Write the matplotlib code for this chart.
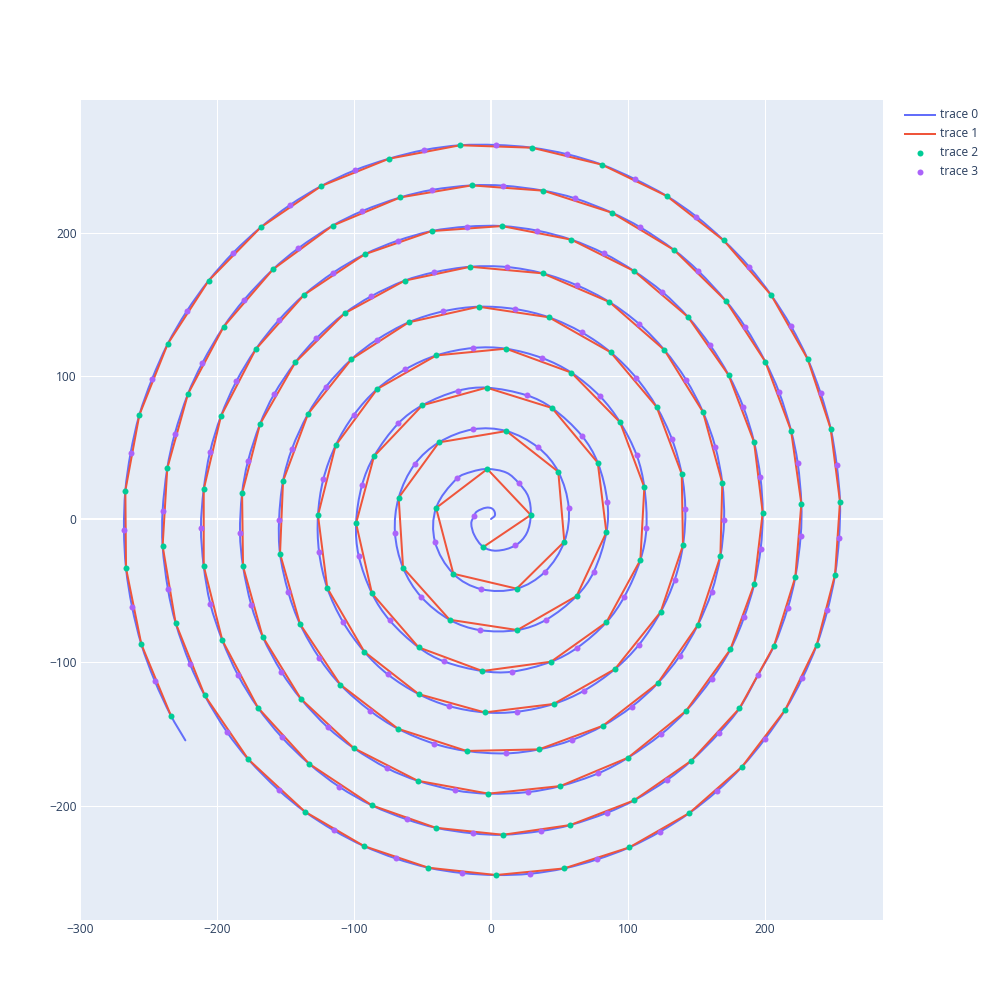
import numpy as np
import matplotlib
matplotlib.use("Agg")
import matplotlib.pyplot as plt
from matplotlib.path import Path
from matplotlib.patches import PathPatch
from matplotlib.lines import Line2D

# ---------------- data ----------------
# trace 2 (green markers); trace 1 is the line through them, in this order
green_x = [-5.6, 29.0, -2.7, -40.1, -27.5, 18.7, 53.5, 49.1, 11.2, -38.0,
           -67.4, -64.2, -30.2, 19.2, 62.5, 84.2, 77.9, 44.5, -3.2, -50.1,
           -85.4, -98.5, -86.9, -52.8, -6.3, 43.8, 84.2, 109.0, 111.9, 94.2,
           58.6, 10.9, -39.9, -83.0, -113.4, -126.3, -119.5, -92.5, -52.8, -4.6,
           45.7, 90.5, 123.8, 140.1, 139.2, 120.9, 87.3, 42.3, -9.0, -60.1,
           -101.9, -133.6, -151.8, -154.0, -139.4, -110.0, -67.9, -17.8, 35.0, 81.7,
           121.6, 150.8, 167.4, 168.8, 154.7, 126.5, 86.4, 37.7, -15.1, -63.0,
           -106.8, -142.8, -168.6, -181.7, -181.0, -166.7, -138.9, -100.2, -53.5, -1.9,
           50.6, 100.0, 142.3, 174.7, 192.2, 198.3, 192.0, 173.5, 143.8, 104.4,
           58.6, 8.0, -43.3, -92.2, -136.3, -171.8, -197.1, -209.7, -209.7, -196.1,
           -170.1, -132.8, -86.9, -40.4, 8.8, 57.9, 104.4, 146.2, 181.3, 206.6,
           222.1, 226.5, 219.0, 200.2, 171.3, 133.6, 88.3, 38.2, -14.1, -66.2,
           -115.6, -159.1, -195.1, -221.2, -236.3, -239.7, -230.2, -209.0, -177.1, -135.8,
           -92.7, -45.7, 3.7, 53.3, 101.0, 144.8, 183.2, 214.8, 237.7, 251.1,
           254.7, 247.9, 231.1, 204.6, 169.8, 128.2, 80.8, 29.9, -22.6, -74.5,
           -123.8, -168.1, -206.1, -236.0, -256.7, -266.9, -266.4, -255.2, -233.6]
green_y = [-19.5, 2.8, 34.9, 7.7, -38.2, -48.6, -15.8, 33.0, 61.4, 53.5,
           14.9, -34.0, -70.3, -77.5, -53.7, -9.3, 39.3, 77.5, 91.7, 79.4,
           43.8, -3.0, -51.9, -89.6, -106.1, -99.6, -72.1, -28.6, 22.1, 67.5,
           102.2, 118.9, 114.2, 90.8, 51.4, 2.6, -48.2, -92.6, -122.2, -135.0,
           -129.1, -104.7, -64.9, -18.4, 31.4, 78.2, 116.4, 140.8, 148.2, 137.3,
           111.5, 73.3, 26.5, -24.2, -73.3, -115.6, -146.4, -161.9, -160.8, -144.3,
           -114.7, -74.2, -26.1, 25.1, 74.7, 118.0, 151.5, 171.5, 176.1, 166.4,
           143.6, 109.4, 66.3, 17.9, -33.0, -82.1, -125.4, -159.9, -182.7, -191.7,
           -186.4, -166.6, -134.0, -91.0, -45.1, 4.4, 53.7, 100.3, 141.0, 173.1,
           195.0, 204.5, 201.0, 184.8, 156.6, 118.4, 71.9, 20.7, -32.8, -84.7,
           -131.7, -170.8, -199.9, -215.5, -220.4, -213.6, -196.4, -168.7, -132.2, -88.4,
           -40.5, 10.7, 61.7, 109.8, 152.4, 187.8, 213.8, 229.2, 232.9, 224.5,
           204.8, 174.3, 134.3, 87.3, 35.4, -18.8, -72.6, -123.1, -167.8, -204.3,
           -228.3, -243.4, -248.5, -243.9, -229.2, -205.2, -172.9, -133.1, -88.0, -38.9,
           12.1, 63.1, 111.7, 156.1, 194.5, 225.5, 247.4, 259.2, 260.9, 251.5,
           232.5, 203.6, 166.4, 122.2, 72.6, 19.8, -34.4, -87.5, -137.3]

# trace 3 (purple markers), each one lying before the green marker of the same index
purple_x = [-12.4, 17.8, 20.4, -24.8, -40.9, -7.3, 39.2, 56.7, 34.3, -13.1,
            -55.7, -70.1, -51.1, -8.3, 39.9, 74.9, 84.9, 66.2, 26.3, -23.8,
            -67.6, -94.2, -96.6, -74.0, -34.3, 15.1, 63.0, 97.3, 113.4, 106.3,
            79.6, 37.2, -13.1, -62.5, -100.0, -122.4, -125.5, -108.0, -75.4, -30.9,
            19.2, 67.9, 108.0, 134.1, 141.8, 132.1, 106.1, 66.2, 17.3, -34.8,
            -83.5, -120.4, -145.3, -154.7, -147.9, -125.3, -88.3, -41.6, 10.7, 58.9,
            102.7, 137.7, 161.1, 170.1, 163.7, 142.3, 107.8, 62.8, 11.7, -41.6,
            -87.6, -127.5, -158.4, -177.4, -183.2, -174.9, -153.0, -119.2, -75.7, -26.0,
            27.0, 78.3, 124.1, 161.1, 184.7, 196.8, 196.6, 184.2, 159.8, 125.1,
            82.2, 33.8, -17.5, -68.1, -115.1, -155.0, -185.9, -205.1, -211.7, -204.9,
            -184.7, -152.8, -110.9, -61.6, -13.4, 36.3, 84.7, 128.7, 166.4, 194.9,
            216.5, 226.0, 223.8, 210.2, 185.4, 151.3, 109.0, 61.1, 9.0, -43.3,
            -93.9, -140.6, -180.3, -210.7, -230.9, -239.7, -235.8, -219.7, -192.7, -155.0,
            -114.8, -69.6, -21.2, 28.5, 77.4, 123.3, 164.7, 199.7, 227.2, 245.5,
            254.0, 252.3, 240.6, 219.0, 188.3, 149.9, 104.9, 55.7, 3.7, -48.7,
            -99.5, -146.7, -188.1, -222.1, -247.4, -263.0, -267.9, -262.0, -245.5]
purple_y = [2.1, -18.4, 24.9, 28.4, -15.8, -48.9, -37.0, 7.9, 50.0, 62.6,
            38.2, -9.5, -54.2, -77.5, -70.5, -37.0, 12.1, 58.2, 86.3, 89.6,
            66.8, 23.5, -25.6, -70.7, -99.4, -106.6, -89.8, -54.2, -6.5, 44.5,
            85.6, 112.4, 119.4, 104.5, 72.8, 27.7, -23.0, -71.9, -108.4, -130.5,
            -134.5, -119.8, -87.7, -42.3, 6.7, 55.6, 98.4, 130.3, 146.6, 145.0,
            125.0, 92.4, 48.9, -0.7, -51.2, -97.0, -133.8, -156.8, -163.6, -154.3,
            -131.0, -95.6, -50.7, -0.7, 50.3, 97.3, 136.4, 163.1, 175.9, 172.2,
            155.4, 126.1, 87.0, 40.3, -10.0, -60.3, -106.6, -145.4, -174.0, -189.4,
            -190.6, -177.5, -150.3, -111.5, -68.6, -20.7, 29.1, 78.0, 121.5, 158.5,
            185.5, 201.3, 204.1, 194.3, 172.0, 138.7, 96.1, 46.8, -6.0, -59.1,
            -108.9, -152.2, -186.8, -209.6, -219.4, -217.8, -205.0, -182.0, -149.4, -108.9,
            -62.4, -11.9, 39.3, 88.6, 134.3, 173.1, 203.6, 223.9, 232.7, 229.7,
            215.0, 189.0, 152.9, 108.9, 59.1, 5.6, -48.9, -101.2, -148.7, -189.2,
            -217.3, -236.9, -247.1, -247.6, -237.6, -218.3, -190.1, -153.8, -111.2, -63.8,
            -13.5, 37.9, 87.7, 134.5, 176.2, 211.1, 237.3, 254.6, 261.1, 257.6,
            243.4, 219.2, 185.9, 145.0, 97.7, 46.3, -7.4, -61.2, -112.8]

# trace 0 (smooth spiral): its inner start, read point by point up to the 4th purple marker,
# then it runs through the purple/green markers and ends at trace0_end
trace0_head_x = [0.0, 2.9, 1.2, -3.6, -10.5, -12.4, -14.4, -12.2, -5.6, 4.1,
                 17.8, 26.0, 29.0, 27.2, 20.4, 11.4, -2.7, -14.1]
trace0_head_y = [0.0, 2.8, 7.0, 7.9, 5.1, 2.1, -3.0, -11.2, -19.5, -22.1,
                 -18.4, -10.0, 2.8, 15.6, 24.9, 32.3, 34.9, 33.0]
trace0_end_x = -223.1
trace0_end_y = -154.5

trace_names = ["trace 0", "trace 1", "trace 2", "trace 3"]
trace_colors = ["#636efa", "#EF553B", "#00cc96", "#ab63fa"]

x_ticks = [-300, -200, -100, 0, 100, 200]
y_ticks = [-200, -100, 0, 100, 200]

# ---------------- figure ----------------
plt.rcParams['font.family'] = ['Open Sans', 'DejaVu Sans']
TXT = "#2a3f5f"
PX = 0.72  # points per pixel at dpi 100

fig = plt.figure(figsize=(10, 10), dpi=100)
fig.patch.set_facecolor("white")
ax = fig.add_axes([0.080, 0.080, 0.803, 0.820])
ax.set_facecolor("#E5ECF6")
for s in ax.spines.values():
    s.set_visible(False)

# trace 0 sequence
seq_x = list(trace0_head_x)
seq_y = list(trace0_head_y)
for px_, gx_, py_, gy_ in zip(purple_x[3:], green_x[3:], purple_y[3:], green_y[3:]):
    seq_x += [px_, gx_]
    seq_y += [py_, gy_]
seq_x.append(trace0_end_x)
seq_y.append(trace0_end_y)


def smooth_path(xs, ys):
    P = np.column_stack([xs, ys]).astype(float)
    n = len(P)
    verts = [P[0]]
    codes = [Path.MOVETO]
    for i in range(n - 1):
        p0 = P[i - 1] if i > 0 else P[i]
        p1 = P[i]
        p2 = P[i + 1]
        p3 = P[i + 2] if i + 2 < n else P[i + 1]
        L = np.hypot(*(p2 - p1))
        t1 = p2 - p0
        t1 = t1 / np.hypot(*t1)
        t2 = p3 - p1
        t2 = t2 / np.hypot(*t2)
        verts += [p1 + t1 * L / 3.0, p2 - t2 * L / 3.0, p2]
        codes += [Path.CURVE4] * 3
    return Path(verts, codes)


ax.add_patch(PathPatch(smooth_path(seq_x, seq_y), facecolor="none",
                       edgecolor=trace_colors[0], lw=2 * PX, zorder=3,
                       capstyle="round", joinstyle="round"))
ax.plot(green_x, green_y, color=trace_colors[1], lw=2 * PX, zorder=4,
        solid_joinstyle="round")
ax.plot(green_x, green_y, ls="none", marker="o", ms=6 * PX, mew=0,
        color=trace_colors[2], zorder=5)
ax.plot(purple_x, purple_y, ls="none", marker="o", ms=6 * PX, mew=0,
        color=trace_colors[3], zorder=6)

ax.set_xlim(-300.0, 286.1)
ax.set_ylim(-279.9, 292.5)
ax.set_xticks(x_ticks)
ax.set_yticks(y_ticks)
ax.grid(True, color="white", lw=1 * PX, zorder=0)
ax.set_axisbelow(True)
ax.axhline(0, color="white", lw=2 * PX, zorder=1)
ax.axvline(0, color="white", lw=2 * PX, zorder=1)
ax.tick_params(axis="both", length=0, labelsize=12 * PX, labelcolor=TXT)
ax.tick_params(axis="x", pad=2.5)
ax.tick_params(axis="y", pad=2.5)

# legend (top right, outside the plot)
rows = [114.7, 133.7, 152.7, 171.7]
for i, (name, col) in enumerate(zip(trace_names, trace_colors)):
    yf = 1 - rows[i] / 1000.0
    if i < 2:
        fig.add_artist(Line2D([0.905, 0.935], [yf, yf], color=col, lw=2 * PX,
                              transform=fig.transFigure))
    else:
        fig.add_artist(Line2D([0.920], [yf], color=col, marker="o", ms=6 * PX,
                              mew=0, ls="none", transform=fig.transFigure))
    fig.text(0.940, yf, name, color=TXT, fontsize=12 * PX, va="center", ha="left")

fig.savefig("out.png", dpi=100, facecolor="white")
